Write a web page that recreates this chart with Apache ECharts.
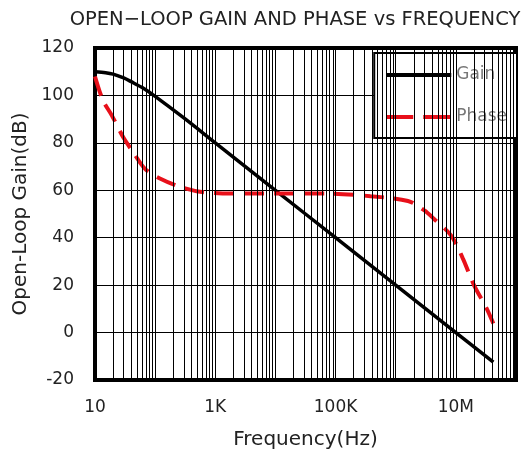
<!DOCTYPE html>
<html>
<head>
<meta charset="utf-8">
<script src="https://cdn.jsdelivr.net/npm/echarts@6/dist/echarts.min.js"></script>
<style>
	html, body { margin: 0; padding: 0; background: #fff; }
	#olgChart { width: 527px; height: 455px; }
</style>
</head>
<body>
<div id="olgChart"></div>
<script>
/* data */
var gainFreq = [10, 15, 20, 30, 40, 60, 100, 300, 1e3, 1e4, 1e5, 1e6, 1e7, 4.2e7];
var gainDb = [110, 109.6, 109, 107.4, 105.8, 103.4, 99.6, 90.5, 80, 60, 40, 20, 0, -12.5];
var phaseFreq = [10, 13.5, 19, 30, 42, 68, 120, 260, 560, 1800, 1e4, 8e4, 3.8e5, 1.6e6, 3e6, 4.3e6, 8.3e6, 1.3e7, 2e7, 3.2e7, 4.2e7];
var phaseVal = [108, 98, 91.6, 82, 76.5, 69, 65, 61.5, 59.4, 58.6, 58.6, 58.6, 57.5, 55.5, 51.5, 48, 41, 31.4, 20, 10.5, 3.8];
var xTickLabels = {10: '10', 1000: '1K', 100000: '100K', 10000000: '10M'};
var yTicks = [-20, 0, 20, 40, 60, 80, 100, 120];

function pairs(xs, ys) {
	var out = [];
	for (var i = 0; i < xs.length; i++) out.push([xs[i], ys[i]]);
	return out;
}

/* log grid: every 1..9 x decade between 10 and 1e8 */
var vLines = [];
for (var d = 10; d < 1e8; d *= 10) {
	for (var m = 1; m <= 9; m++) {
		var v = d * m;
		if (v > 10 && v < 1e8) vLines.push({xAxis: v});
	}
}

var font = 'DejaVu Sans';
var red = '#e8101a';
var myChart = echarts.init(document.getElementById('olgChart'));
var option = {
	animation: false,
	title: {
		text: 'OPEN\u2212LOOP GAIN AND PHASE vs FREQUENCY',
		left: 290,
		textAlign: 'center',
		top: 5,
		textStyle: {fontFamily: font, fontSize: 19.5, fontWeight: 'normal', color: '#222'}
	},
	legend: {
		orient: 'vertical',
		right: 10,
		top: 53,
		padding: [12, 10, 11, 10],
		itemWidth: 65,
		itemHeight: 14,
		itemGap: 22,
		backgroundColor: '#fff',
		borderColor: '#000',
		borderWidth: 2,
		itemStyle: {opacity: 0},
		textStyle: {fontFamily: font, fontSize: 17, color: '#777', lineHeight: 20},
		data: [
			{name: 'Gain', lineStyle: {width: 4}},
			{name: 'Phase', lineStyle: {width: 4, type: [27, 10]}}
		]
	},
	grid: {
		left: 95,
		right: 11,
		top: 48,
		bottom: 72,
		show: true,
		borderColor: '#000',
		borderWidth: 4
	},
	xAxis: {
		type: 'log',
		logBase: 10,
		min: 10,
		max: 1e8,
		splitNumber: 7,
		name: 'Frequency(Hz)',
		nameLocation: 'middle',
		nameGap: 50,
		nameTextStyle: {fontFamily: font, fontSize: 20, color: '#222'},
		axisLine: {show: false},
		axisTick: {show: false},
		splitLine: {show: false},
		axisLabel: {
			fontFamily: font, fontSize: 17, color: '#222', margin: 19,
			formatter: function (val) {
				return xTickLabels[Math.round(val)] || '';
			}
		}
	},
	yAxis: {
		type: 'value',
		min: yTicks[0],
		max: yTicks[yTicks.length - 1],
		interval: 20,
		name: 'Open-Loop Gain(dB)',
		nameLocation: 'middle',
		nameGap: 59,
		nameTextStyle: {fontFamily: font, fontSize: 20, color: '#222'},
		axisLine: {show: false},
		axisTick: {show: false},
		axisLabel: {fontFamily: font, fontSize: 17, color: '#222', margin: 21},
		splitLine: {lineStyle: {color: '#000', width: 1}}
	},
	series: [{
		type: 'line',
		data: [],
		z: 1,
		silent: true,
		markLine: {
			silent: true,
			symbol: ['none', 'none'],
			label: {show: false},
			lineStyle: {color: '#000', width: 1, type: 'solid'},
			data: vLines
		}
	}, {
		name: 'Gain',
		type: 'line',
		data: pairs(gainFreq, gainDb),
		smooth: 0.3,
		symbol: 'none',
		z: 3,
		itemStyle: {color: '#000'},
		lineStyle: {color: '#000', width: 3.5}
	}, {
		name: 'Phase',
		type: 'line',
		data: pairs(phaseFreq, phaseVal),
		smooth: 0.3,
		symbol: 'none',
		z: 3,
		itemStyle: {color: red},
		lineStyle: {color: red, width: 4, type: [20, 10]}
	}]
};
myChart.setOption(option);
</script>
</body>
</html>
